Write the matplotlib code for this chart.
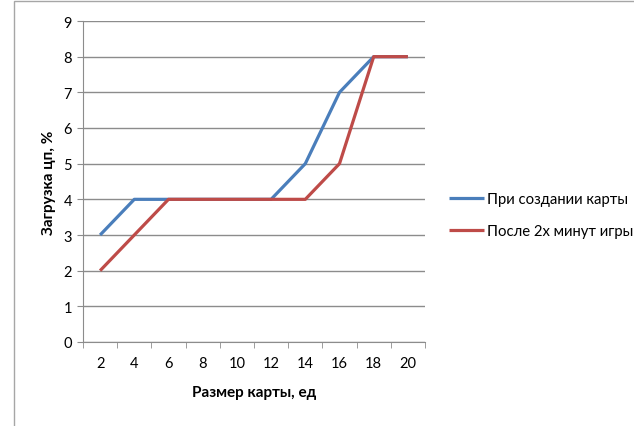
import matplotlib.pyplot as plt
from matplotlib.patches import Rectangle

# map sizes and cpu load for the two measurements
sizes = ['2', '4', '6', '8', '10', '12', '14', '16', '18', '20']
load_create = [3, 4, 4, 4, 4, 4, 5, 7, 8, 8]
load_after = [2, 3, 4, 4, 4, 4, 4, 5, 8, 8]
series_names = ['При создании карты', 'После 2х минут игры']

plt.rcParams['font.family'] = ['Lato', 'DejaVu Sans']

fig = plt.figure(figsize=(6.34, 4.27), dpi=100)
# chart area border
fig.patches.append(Rectangle((14 / 634, -0.1), 1.1, 1.1 - 2 / 427, transform=fig.transFigure,
                             fill=False, edgecolor='#a6a6a6', linewidth=1))

ax = fig.add_axes([83 / 634, 1 - 343 / 427, 342 / 634, 321 / 427])
x = range(len(sizes))
ax.plot(x, load_create, color='#4A7EBB', linewidth=2.3, label=series_names[0], solid_capstyle='butt')
ax.plot(x, load_after, color='#BE4B48', linewidth=2.3, label=series_names[1], solid_capstyle='butt')

ax.set_xlim(-0.5, len(sizes) - 0.5)
ax.set_ylim(0, 9)
ax.set_yticks(range(10))
ax.set_xticks(list(x))
ax.set_xticklabels(sizes)
ax.set_xticks([i - 0.5 for i in range(len(sizes) + 1)], minor=True)

ax.yaxis.grid(True, color='#8c8c8c', linewidth=1)
ax.set_axisbelow(True)
for side in ['top', 'right']:
    ax.spines[side].set_visible(False)
for side in ['left', 'bottom']:
    ax.spines[side].set_color('#8c8c8c')
ax.tick_params(axis='x', which='major', length=0, pad=10, labelsize=10.5)
ax.tick_params(axis='x', which='minor', length=4, color='#8c8c8c')
ax.tick_params(axis='y', length=4, color='#8c8c8c', pad=4, labelsize=10.5)

ax.set_xlabel('Размер карты, ед', fontsize=11, fontweight='bold', labelpad=11)
ax.set_ylabel('Загрузка цп, %', fontsize=11, fontweight='bold', labelpad=5)

ax.legend(loc='center left', bbox_to_anchor=(1.03, 0.395), frameon=False, fontsize=10.7,
          handlelength=2.4, handletextpad=0.2, labelspacing=1.25)

fig.savefig('out.png', dpi=100)
